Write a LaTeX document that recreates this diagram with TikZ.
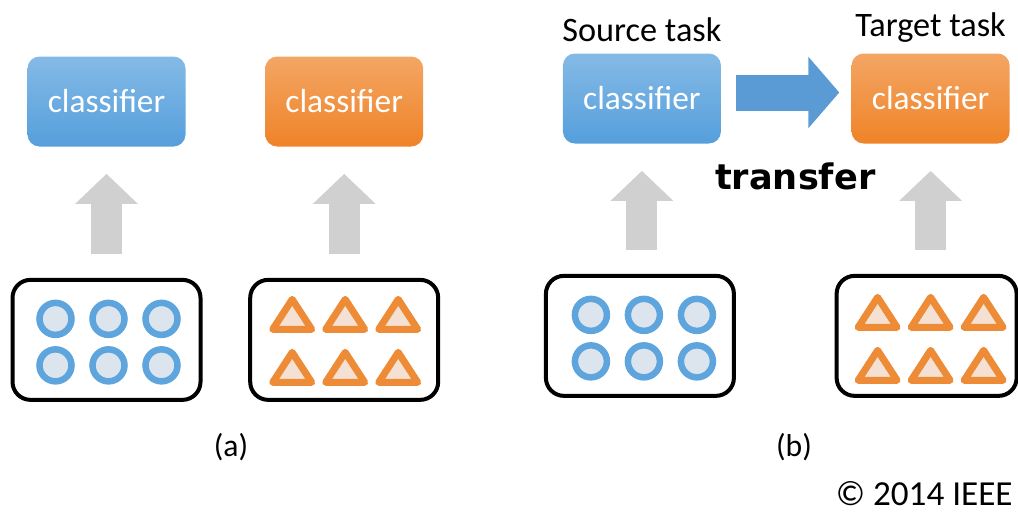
\documentclass[tikz,border=0pt]{standalone}
\usepackage{fontspec}
\setmainfont{Carlito}
\newfontfamily\transferfont{DejaVu Sans}
\usetikzlibrary{positioning, arrows.meta, calc}
\definecolor{srcblue}{HTML}{559FDC}
\definecolor{tgtorange}{HTML}{EF8328}
\definecolor{dotblue}{HTML}{5EA5DD}
\definecolor{dotfill}{HTML}{DCE5EE}
\definecolor{triorange}{HTML}{EE8B36}
\definecolor{trifill}{HTML}{F5E1D3}
\definecolor{arrowgray}{HTML}{D0D0D0}
\definecolor{transferblue}{HTML}{5B9BD5}
\tikzset{
    classifier/.style={
        rectangle,
        rounded corners=0.24cm,
        minimum width=3.16cm,
        minimum height=1.8cm,
        text=white,
        font=\fontsize{19}{21}\selectfont,
    },
    source/.style={classifier, top color=srcblue!72!white, bottom color=srcblue},
    target/.style={classifier, top color=tgtorange!72!white, bottom color=tgtorange},
    dataset/.style={
        draw,
        line width=0.08cm,
        rounded corners=0.36cm,
        minimum width=3.76cm,
        minimum height=2.4cm,
    },
    sample/.style={draw=dotblue, fill=dotfill, line width=0.13cm},
    sampletri/.style={draw=triorange, fill=trifill, line width=0.14cm, line join=round},
    uparrow/.style={
        draw=arrowgray,
        line width=0.62cm,
        -{Triangle[width=1.22cm,length=0.6cm]},
        shorten <=0.48cm,
        shorten >=0.54cm,
    },
    caption/.style={font=\fontsize{18}{21}\selectfont},
}

\begin{document}
\begin{tikzpicture}[node distance=2.6cm]
        \useasboundingbox (0,0) rectangle (20.36,-10.24);
        % (a) two separate tasks
        \node[source] (clsA1) at (2.13,-2.03) {classifier};
        \node[target, right=1.58cm of clsA1] (clsA2) {classifier};
        \node[dataset, below=2.62cm of clsA1] (dataA1) {};
        \node[dataset, below=2.62cm of clsA2] (dataA2) {};
        % (b) transfer learning
        \node[source, right=2.78cm of clsA2, yshift=0.06cm] (clsB1) {classifier};
        \node[target, right=of clsB1] (clsB2) {classifier};
        \node[dataset, below=of clsB1, xshift=-0.04cm] (dataB1) {};
        \node[dataset, below=of clsB2, xshift=-0.08cm, minimum width=3.6cm] (dataB2) {};
        \node[caption, font=\fontsize{19.5}{21}\selectfont, above=0.1cm of clsB1] (srcB) {Source task};
        \node[caption, font=\fontsize{19.5}{21}\selectfont, above=0.1cm of clsB2] (tgtB) {Target task};
        \node[font=\transferfont\bfseries\fontsize{20}{24}\selectfont] (transfer)
            at ($(clsB1.east)!0.5!(clsB2.west)+(0.18,-1.55)$) {transfer};
        % samples
        \foreach \dx in {-1.02,0.04,1.10}
            \foreach \dy in {0.42,-0.51} {
                \draw[sample] ([shift={(\dx,\dy)}]dataA1.center) circle (0.32cm);
                \draw[sample] ([shift={(\dx+0.04,\dy)}]dataB1.center) circle (0.32cm);
            }
        \foreach \dx in {-1.04,0.02,1.08}
            \foreach \dy in {0.51,-0.55} {
                \draw[sampletri] ([shift={(\dx,\dy)}]dataA2.center) ++(0,0.3) -- ++(0.39,-0.6) -- ++(-0.78,0) -- cycle;
                \draw[sampletri] ([shift={(\dx+0.06,\dy-0.04)}]dataB2.center) ++(0,0.3) -- ++(0.39,-0.6) -- ++(-0.78,0) -- cycle;
            }
        % arrows
        \draw[uparrow] (clsA1.south |- dataA1.north) to (clsA1.south);
        \draw[uparrow] (clsA2.south |- dataA2.north) to (clsA2.south);
        \draw[uparrow] (clsB1.south |- dataB1.north) to (clsB1.south);
        \draw[uparrow] (clsB2.south |- dataB2.north) to (clsB2.south);
        \draw[draw=transferblue, line width=0.72cm, -{Triangle[width=1.4cm,length=0.62cm]},
            shorten <=0.3cm, shorten >=0.24cm]
            ([yshift=0.12cm]clsB1.east) to ([yshift=0.12cm]clsB2.west);
        % captions
        \node[caption] (capA) at (4.62,-8.95) {(a)};
        \node[caption] (capB) at (15.88,-8.95) {(b)};
        \node[caption, font=\fontsize{20}{22}\selectfont, inner sep=0pt, anchor=base east] (copy)
            at (20.26,-10.1) {© 2014 IEEE};
\end{tikzpicture}
\end{document}
